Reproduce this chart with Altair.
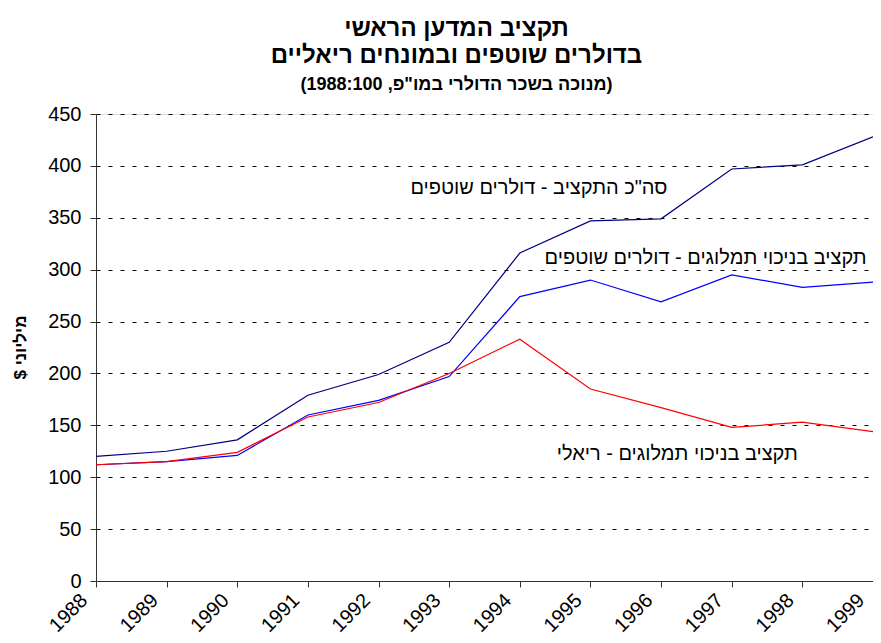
import altair as alt
import pandas as pd

years = [1988, 1989, 1990, 1991, 1992, 1993, 1994, 1995, 1996, 1997, 1998, 1999]
total_nominal = [120, 125, 136, 179, 199, 230, 316, 347, 349, 397, 401, 428]
net_nominal = [112, 115, 121, 160, 174, 197, 274, 290, 269, 295, 283, 288]
net_real = [112, 115, 124, 158, 172, 200, 233, 185, 167, 148, 153, 144]

series_names = ["total", "net_nominal", "net_real"]
series_colors = ["#000080", "#0000FF", "#FF0000"]

label_texts = [
    "סה\"כ התקציב - דולרים שוטפים",
    "תקציב בניכוי תמלוגים - דולרים שוטפים",
    "תקציב בניכוי תמלוגים - ריאלי",
]
label_x = [1994.27, 1996.63, 1996.23]
label_y = [378.7, 311, 122.4]

y_ticks = [0, 50, 100, 150, 200, 250, 300, 350, 400, 450]

rows = []
for name, vals in zip(series_names, [total_nominal, net_nominal, net_real]):
    for yr, v in zip(years, vals):
        rows.append({"year": yr, "value": v, "series": name})
df = pd.DataFrame(rows)
labels_df = pd.DataFrame({"text": label_texts, "x": label_x, "y": label_y})

FONT = "Liberation Sans"

x_enc = alt.X(
    "year:Q",
    scale=alt.Scale(domain=[1988, 1999], nice=False, zero=False),
    axis=alt.Axis(
        values=years, format="d", labelAngle=-45, labelAlign="right",
        labelBaseline="middle", labelPadding=10, labelOffset=-12, grid=False,
        title=None, labelFontSize=20, labelFont=FONT, labelColor="black",
        tickSize=6, domainColor="#333333", tickColor="#333333",
    ),
)
y_enc = alt.Y(
    "value:Q",
    scale=alt.Scale(domain=[0, 450], nice=False),
    axis=alt.Axis(
        values=y_ticks, grid=True, gridDash=[4, 8], gridColor="black",
        gridWidth=1, labelFontSize=20, labelFont=FONT, labelColor="black",
        labelPadding=9, tickSize=6, domainColor="#333333", tickColor="#333333",
        title="מיליוני $\u200f", titleFont=FONT, titleFontSize=17,
        titleFontWeight="bold", titleAngle=-90, titleX=-76, titleY=233,
        titleBaseline="middle", titleColor="black",
    ),
)

lines = alt.Chart(df).mark_line(strokeWidth=1.2).encode(
    x=x_enc,
    y=y_enc,
    color=alt.Color("series:N", scale=alt.Scale(domain=series_names, range=series_colors), legend=None),
    detail="series:N",
)

texts = alt.Chart(labels_df).mark_text(
    font=FONT, fontSize=20, color="black", align="center", baseline="middle"
).encode(
    x=alt.X("x:Q"),
    y=alt.Y("y:Q"),
    text="text:N",
)

chart = alt.layer(lines, texts).properties(
    width=777,
    height=467,
    autosize=alt.AutoSizeParams(type="none"),
    padding={"left": 88, "top": 106, "right": 0, "bottom": 54},
    title=alt.TitleParams(
        text=["תקציב המדען הראשי", "בדולרים שוטפים ובמונחים ריאליים"],
        subtitle="\u200f(מנוכה בשכר הדולרי במו\"פ,  1988:100)\u200f",
        font=FONT, fontSize=24, fontWeight="bold", color="black",
        subtitleFont=FONT, subtitleFontSize=18, subtitleFontWeight="bold",
        subtitleColor="black", anchor="middle", dx=-28, offset=10,
        lineHeight=27, subtitlePadding=8,
    ),
).configure_view(stroke=None).configure(background="white")

chart.save("out.html", embed_options={"renderer": "svg", "actions": False})
